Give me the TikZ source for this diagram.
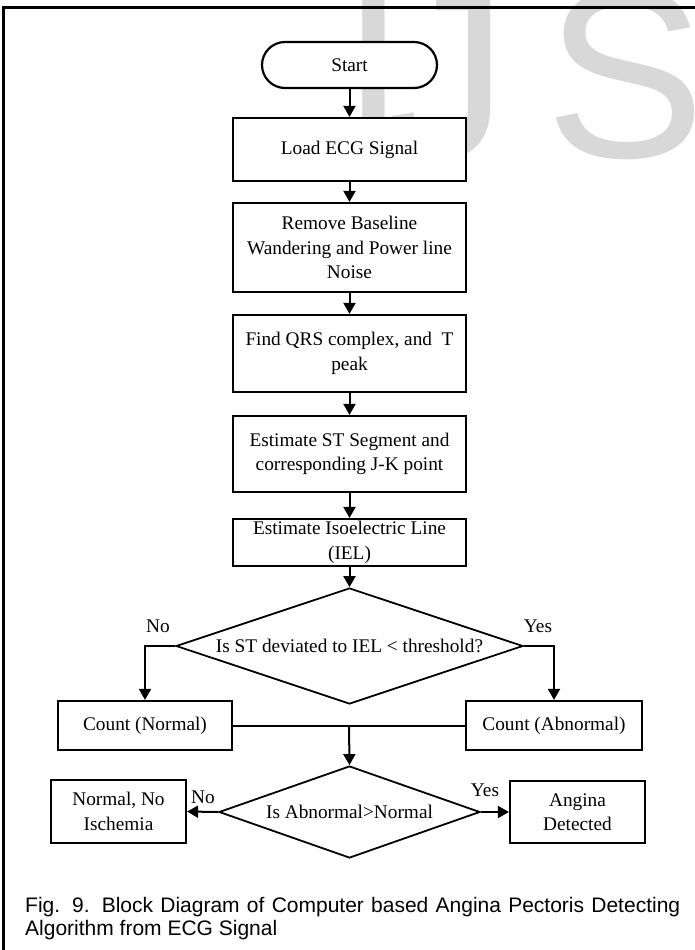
\documentclass[tikz,border=0pt]{standalone}
\usepackage{fontspec}
\setmainfont{Liberation Serif}
\newfontfamily\capfont{Liberation Sans}
\newfontfamily\wmfont{Liberation Sans}
\usetikzlibrary{arrows.meta,shapes.geometric,calc}
\definecolor{wmgray}{RGB}{216,216,216}
\tikzset{
  fc/.style={font=\fontsize{19.3}{24.5}\selectfont},
  stepbox/.style={draw, line width=2.2pt, fill=white, align=center, inner sep=0pt, fc},
  termbox/.style={stepbox, rounded corners=23pt},
  decbox/.style={draw, diamond, line width=1.8pt, fill=white, inner sep=0pt, align=center, fc},
  conn/.style={line width=2pt, -{Triangle[length=11pt,width=12pt]}},
  plainline/.style={line width=2pt},
  lbl/.style={inner sep=0pt, fc},
  wm/.style={inner sep=0pt, anchor=base, text=wmgray, font=\wmfont\fontsize{240}{240}\selectfont},
  framel/.style={line width=2.2pt}
}
\begin{document}
\begin{tikzpicture}[x=1pt,y=-1pt]
\useasboundingbox (0,0) rectangle (695,950);
\fill[white] (0,0) rectangle (695,950);
% watermark
\node[wm] (wI) at (373.5,157) {I};
\node[wm] (wJ) at (448,157) {J};
\node[wm] (wS) at (626,157) {S};
% frame
\draw[framel] (3.5,952) -- (3.5,7.5) -- (698,7.5);
% nodes
\node[termbox, minimum width=175pt, minimum height=46pt] (start) at (349.5,65) {Start};
\node[stepbox, minimum width=233pt, minimum height=63pt] (load) at (349.5,149.5) {Load ECG Signal};
\node[stepbox, minimum width=233pt, minimum height=89pt] (remove) at (349.5,247.5) {Remove Baseline\\Wandering and Power line\\Noise};
\node[stepbox, minimum width=233pt, minimum height=77pt] (qrs) at (349.5,353.5) {Find QRS complex, and\ \ T\\peak};
\node[stepbox, minimum width=233pt, minimum height=76pt] (est) at (349.5,454) {Estimate ST Segment and\\corresponding J-K point};
\node[stepbox, minimum width=233pt, minimum height=47pt] (iel) at (349.5,542.5) {Estimate Isoelectric Line\\(IEL)};
\node[decbox, aspect=3, minimum width=347pt, minimum height=116pt] (d1) at (349.5,646) {Is ST deviated to IEL < threshold?};
\node[stepbox, minimum width=174pt, minimum height=49pt] (cn) at (145,725.5) {Count (Normal)};
\node[stepbox, minimum width=176pt, minimum height=49pt] (ca) at (554,725.5) {Count (Abnormal)};
\node[decbox, aspect=2.84, minimum width=261pt, minimum height=92pt] (d2) at (349.5,812) {Is Abnormal>Normal};
\node[stepbox, minimum width=135pt, minimum height=63pt] (nn) at (118.5,811.5) {Normal, No\\Ischemia};
\node[stepbox, minimum width=135pt, minimum height=62pt] (ad) at (577.5,812) {Angina\\Detected};
% labels
\node[lbl] (no1) at (158,626) {No};
\node[lbl] (yes1) at (538,626) {Yes};
\node[lbl] (no2) at (203,797) {No};
\node[lbl] (yes2) at (485,790) {Yes};
% connectors
\draw[conn] (start) -- (load);
\draw[conn] (load) -- (remove);
\draw[conn] (remove) -- (qrs);
\draw[conn] (qrs) -- (est);
\draw[conn] (est) -- (iel);
\draw[conn] (iel) -- (d1.north);
\draw[conn] (d1.west) -| (cn.north);
\draw[conn] (d1.east) -| (ca.north);
\draw[plainline] (cn.east) -- (ca.west);
\coordinate (mid) at ($(cn.east)!0.5!(ca.west)$);
\draw[conn] (mid) -- (d2.north);
\draw[conn] (d2.west) -- (nn.east);
\draw[conn] (d2.east) -- (ad.west);
% caption
\node[inner sep=0pt, anchor=base west, font=\capfont\fontsize{21}{23.5}\selectfont] (cap) at (25,912)
  {\parbox[t]{655pt}{Fig. 9. Block Diagram of Computer based Angina Pectoris Detecting\linebreak Algorithm from ECG Signal}};
\end{tikzpicture}
\end{document}
